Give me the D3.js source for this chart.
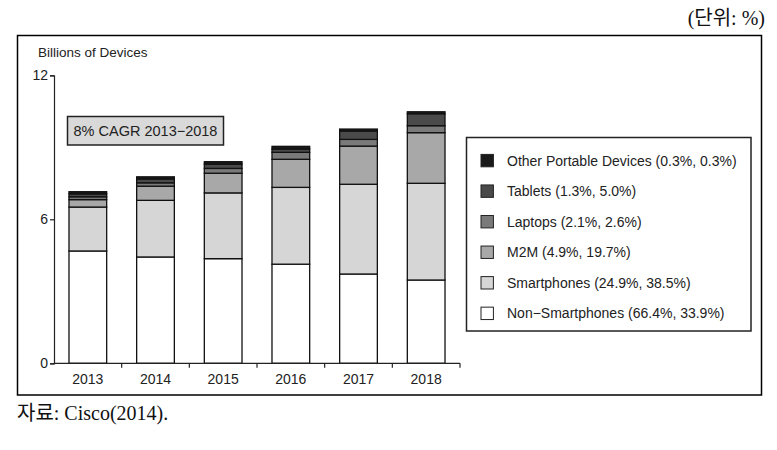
<!DOCTYPE html>
<html>
<head>
<meta charset="utf-8">
<script src="https://cdn.jsdelivr.net/npm/d3@7/dist/d3.min.js"></script>
<style>
  html, body { margin: 0; padding: 0; background: #fff; }
  svg { display: block; }
</style>
</head>
<body>
<svg id="chart" width="777" height="450"></svg>
<script>
// ---- Data (billions of devices) ----
const years = ["2013", "2014", "2015", "2016", "2017", "2018"];
const nonSmartphones = [4.68, 4.43, 4.36, 4.13, 3.72, 3.47];
const smartphones    = [1.83, 2.36, 2.74, 3.20, 3.74, 4.03];
const m2m            = [0.31, 0.59, 0.82, 1.17, 1.59, 2.11];
const laptops        = [0.12, 0.14, 0.20, 0.29, 0.28, 0.29];
const tablets        = [0.12, 0.16, 0.18, 0.14, 0.35, 0.50];
const otherPortable  = [0.09, 0.09, 0.10, 0.11, 0.08, 0.08];
const seriesKeys = ["nonSmartphones", "smartphones", "m2m", "laptops", "tablets", "otherPortable"];
const seriesLabels = [
  "Non\u2212Smartphones (66.4%, 33.9%)",
  "Smartphones (24.9%, 38.5%)",
  "M2M (4.9%, 19.7%)",
  "Laptops (2.1%, 2.6%)",
  "Tablets (1.3%, 5.0%)",
  "Other Portable Devices (0.3%, 0.3%)"
];
const yTicks = [0, 6, 12];
const yAxisTitle = "Billions of Devices";
const cagrText = "8% CAGR 2013\u22122018";
const unitText = "(단위: %)";
const sourceText = "자료: Cisco(2014).";

const colors = ["#ffffff", "#d6d6d6", "#a8a8a8", "#7a7a7a", "#4a4a4a", "#1a1a1a"];

// table for stacking
const table = years.map((y, i) => ({
  year: y,
  nonSmartphones: nonSmartphones[i],
  smartphones: smartphones[i],
  m2m: m2m[i],
  laptops: laptops[i],
  tablets: tablets[i],
  otherPortable: otherPortable[i]
}));

const svg = d3.select("#chart");
const sans = "'Liberation Sans', Arial, Helvetica, sans-serif";
const serif = "'Liberation Serif', 'Times New Roman', 'Noto Sans CJK KR', serif";

// Outer frame
svg.append("rect")
  .attr("x", 17.5).attr("y", 35.5)
  .attr("width", 744).attr("height", 359.5)
  .attr("fill", "none").attr("stroke", "#000").attr("stroke-width", 1.5);

// Unit text top-right
svg.append("text")
  .attr("x", 765).attr("y", 25)
  .attr("text-anchor", "end")
  .style("font-family", serif).style("font-size", "20px")
  .attr("fill", "#111")
  .text(unitText);

// Source text
svg.append("text")
  .attr("x", 17).attr("y", 420)
  .style("font-family", serif).style("font-size", "20px")
  .attr("fill", "#111")
  .text(sourceText);

// Scales
const x = d3.scaleBand().domain(years).range([54, 460])
  .paddingInner(0.443).paddingOuter(0.2215);
const y = d3.scaleLinear().domain([0, 12]).range([363.3, 75.3]);

// Stack
const stack = d3.stack().keys(seriesKeys);
const stacked = stack(table);

const g = svg.append("g");
g.selectAll("g.layer")
  .data(stacked)
  .join("g")
  .attr("class", "layer")
  .attr("fill", (d, i) => colors[i])
  .selectAll("rect")
  .data(d => d)
  .join("rect")
  .attr("x", d => x(d.data.year))
  .attr("width", x.bandwidth())
  .attr("y", d => y(d[1]))
  .attr("height", d => y(d[0]) - y(d[1]))
  .attr("stroke", "#111")
  .attr("stroke-width", 1.3);

// Y axis
const yAxis = d3.axisLeft(y).tickValues(yTicks).tickSize(4).tickPadding(2);
const ya = svg.append("g").attr("transform", "translate(54,0)").call(yAxis);
ya.select(".domain").attr("stroke", "#222").attr("stroke-width", 1.2);
ya.selectAll(".tick line").attr("stroke", "#222").attr("stroke-width", 1.2);
ya.selectAll(".tick text").style("font-family", sans).style("font-size", "14px").attr("fill", "#222");

// X axis: line with ticks at band boundaries
const step = x.step();
const boundaries = years.map(yr => x(yr) + x.bandwidth() + step * x.paddingInner() / 2);
const xa = svg.append("g");
xa.append("line")
  .attr("x1", 54).attr("x2", boundaries[boundaries.length - 1])
  .attr("y1", y(0)).attr("y2", y(0))
  .attr("stroke", "#222").attr("stroke-width", 1.2);
xa.selectAll("line.tk")
  .data(boundaries)
  .join("line")
  .attr("class", "tk")
  .attr("x1", d => d).attr("x2", d => d)
  .attr("y1", y(0)).attr("y2", y(0) + 4.5)
  .attr("stroke", "#222").attr("stroke-width", 1.2);
xa.selectAll("text")
  .data(years)
  .join("text")
  .attr("x", d => x(d) + x.bandwidth() / 2)
  .attr("y", y(0) + 21)
  .attr("text-anchor", "middle")
  .style("font-family", sans).style("font-size", "14px")
  .attr("fill", "#222")
  .text(d => d);

// Y axis title
svg.append("text")
  .attr("x", 38).attr("y", 57)
  .style("font-family", sans).style("font-size", "13.5px")
  .attr("fill", "#222")
  .text(yAxisTitle);

// CAGR box
svg.append("rect")
  .attr("x", 67.5).attr("y", 116.5)
  .attr("width", 156).attr("height", 28.5)
  .attr("fill", "#d9d9d9").attr("stroke", "#222").attr("stroke-width", 1.5);
svg.append("text")
  .attr("x", 145.5).attr("y", 136)
  .attr("text-anchor", "middle")
  .style("font-family", sans).style("font-size", "14.5px")
  .attr("fill", "#222")
  .text(cagrText);

// Legend
svg.append("rect")
  .attr("x", 466.5).attr("y", 137.5)
  .attr("width", 284.5).attr("height", 193.5)
  .attr("fill", "#fff").attr("stroke", "#222").attr("stroke-width", 1.5);

const legendOrder = d3.range(seriesKeys.length).reverse();
const lg = svg.append("g");
const rows = lg.selectAll("g.row")
  .data(legendOrder)
  .join("g")
  .attr("class", "row")
  .attr("transform", (d, i) => `translate(0, ${160.6 + i * 30.55})`);
rows.append("rect")
  .attr("x", 481).attr("y", -6.2)
  .attr("width", 12.4).attr("height", 12.4)
  .attr("fill", d => colors[d])
  .attr("stroke", "#222").attr("stroke-width", 1);
rows.append("text")
  .attr("x", 507).attr("y", 5)
  .style("font-family", sans).style("font-size", "14px")
  .attr("fill", "#222")
  .text(d => seriesLabels[d]);
</script>
</body>
</html>
